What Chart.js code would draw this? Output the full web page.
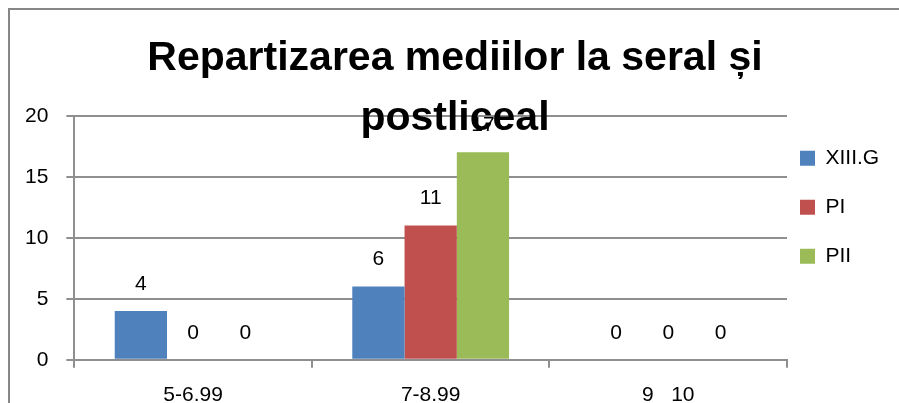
<!DOCTYPE html>
<html>
<head>
<meta charset="utf-8">
<script src="https://cdn.jsdelivr.net/npm/chart.js@4"></script>
<style>
  html, body { margin: 0; padding: 0; background: #fff; overflow: hidden; width: 899px; height: 403px; }
  #frame { position: absolute; left: 8px; top: 8px; width: 1000px; height: 1000px; border: 2px solid #878787; }
  #chart { position: absolute; left: 0; top: 0; }
</style>
</head>
<body>
<div id="frame"></div>
<canvas id="chart" width="899" height="427"></canvas>
<script>
const categories = ['5-6.99', '7-8.99', '9   10'];
const seriesNames = ['XIII.G', 'PI', 'PII'];
const xiiiG = [4, 6, 0];
const pI = [0, 11, 0];
const pII = [0, 17, 0];
const yTicks = [0, 5, 10, 15, 20];
const titleLines = ['Repartizarea mediilor la seral și', 'postliceal'];

const colors = ['#4F81BD', '#C0504D', '#9BBB59'];
const fontFamily = '"Liberation Sans", Arial, sans-serif';

// value labels drawn before the layers so the title sits on top of them
const valueLabels = {
  id: 'valueLabels',
  beforeDraw(chart) {
    const ctx = chart.ctx;
    ctx.save();
    ctx.font = '21px ' + fontFamily;
    ctx.fillStyle = '#000';
    ctx.textAlign = 'center';
    ctx.textBaseline = 'middle';
    chart.data.datasets.forEach((ds, i) => {
      chart.getDatasetMeta(i).data.forEach((bar, j) => {
        ctx.fillText(String(ds.data[j]), bar.x, bar.y - 27);
      });
    });
    ctx.restore();
  }
};

// move the legend a bit to sit where the original one is
const legendNudge = {
  id: 'legendNudge',
  afterLayout(chart) {
    const lg = chart.legend;
    lg.left -= 15;
    lg.top += 4; lg.bottom += 4;
  }
};

new Chart(document.getElementById('chart'), {
  type: 'bar',
  data: {
    labels: categories,
    datasets: [
      { label: seriesNames[0], data: xiiiG, backgroundColor: colors[0] },
      { label: seriesNames[1], data: pI, backgroundColor: colors[1] },
      { label: seriesNames[2], data: pII, backgroundColor: colors[2] }
    ]
  },
  options: {
    responsive: false,
    animation: false,
    layout: { padding: { left: 7, right: -4, top: 0, bottom: 4 } },
    datasets: { bar: { categoryPercentage: 0.66, barPercentage: 1 } },
    plugins: {
      title: {
        display: true,
        text: titleLines,
        color: '#000',
        font: { family: fontFamily, size: 41, weight: 'bold', lineHeight: 1.46 },
        padding: { top: 29, bottom: -33 }
      },
      legend: {
        position: 'right',
        align: 'start',
        fullSize: false,
        maxWidth: 116,
        labels: {
          boxWidth: 15,
          boxHeight: 15,
          padding: 28,
          color: '#000',
          font: { family: fontFamily, size: 21 }
        }
      },
      tooltip: { enabled: false }
    },
    scales: {
      x: {
        grid: { offset: true, drawOnChartArea: false, tickLength: 8, color: '#8f8f8f', lineWidth: 2 },
        border: { color: '#8f8f8f', width: 2 },
        ticks: { color: '#000', padding: 15, font: { family: fontFamily, size: 21 } }
      },
      y: {
        min: yTicks[0],
        max: yTicks[yTicks.length - 1],
        afterBuildTicks: (scale) => { scale.ticks = yTicks.map(v => ({ value: v })); },
        grid: { tickLength: 8, color: '#8f8f8f', lineWidth: 2 },
        border: { color: '#8f8f8f', width: 2 },
        ticks: { color: '#000', padding: 18, font: { family: fontFamily, size: 21 } }
      }
    }
  },
  plugins: [valueLabels, legendNudge]
});
</script>
</body>
</html>
